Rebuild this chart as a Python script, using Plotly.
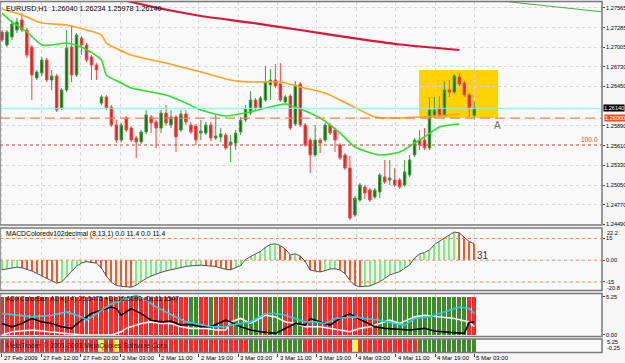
import plotly.graph_objects as go

W, H = 625, 363
PLOT_W = 602          # plotting width in px (price scale sits to the right)
FONT = "Liberation Sans"

# ---------------- price data (EURUSD H1) ----------------
opens = [1.27224,1.27039,1.27153,1.27252,1.27394,1.27252,1.27011,1.26570,1.26641,1.26826,
         1.26542,1.26599,1.26144,1.26400,1.27011,1.26613,1.27138,1.27039,1.26869,1.26755,
         1.26215,1.26301,1.26159,1.25903,1.25690,1.26002,1.25860,1.25718,1.25662,1.25804,
         1.26017,1.25946,1.25860,1.26073,1.25903,1.26017,1.25832,1.26059,1.25903,1.25889,
         1.25789,1.25789,1.25903,1.25718,1.25733,1.25761,1.25619,1.25647,1.25804,1.25974,
         1.26073,1.26258,1.26144,1.26258,1.26471,1.26542,1.26485,1.26230,1.26315,1.25917,
         1.26485,1.25903,1.25690,1.25477,1.25690,1.25690,1.25903,1.25832,1.25619,1.25477,
         1.25292,1.24625,1.24838,1.25023,1.24980,1.24881,1.24952,1.25165,1.25122,1.25122,
         1.25122,1.25051,1.25193,1.25477,1.25690,1.25690,1.25576,1.26045,1.26144,1.26045,
         1.26400,1.26372,1.26585,1.26499,1.26329,1.26040]
highs = [1.27252,1.27252,1.27394,1.27422,1.27493,1.27280,1.27039,1.26684,1.26869,1.26854,
         1.26684,1.26627,1.26428,1.27252,1.27323,1.27209,1.27167,1.27067,1.26897,1.26783,
         1.26329,1.26329,1.26187,1.25974,1.25931,1.26031,1.25889,1.25747,1.25832,1.26116,
         1.26045,1.25974,1.26116,1.26187,1.26116,1.26045,1.26116,1.26116,1.25946,1.25917,
         1.25974,1.25946,1.25946,1.26045,1.25860,1.25789,1.25761,1.25832,1.26017,1.26187,
         1.26386,1.26286,1.26315,1.26741,1.26698,1.26769,1.26783,1.26329,1.26343,1.26528,
         1.26514,1.25931,1.25718,1.25903,1.25718,1.25931,1.25931,1.25860,1.25647,1.25505,
         1.25463,1.24895,1.25079,1.25051,1.25008,1.25008,1.25221,1.25406,1.25406,1.25292,
         1.25150,1.25406,1.25477,1.25718,1.25832,1.25860,1.26301,1.26301,1.26315,1.26528,
         1.26542,1.26627,1.26641,1.26528,1.26357,1.26234]
lows = [1.27082,1.27011,1.27110,1.27209,1.27224,1.26854,1.26258,1.26542,1.26599,1.26514,
        1.26400,1.26088,1.26116,1.26372,1.26514,1.26585,1.26897,1.26798,1.26542,1.26542,
        1.26187,1.26116,1.25875,1.25647,1.25662,1.25804,1.25662,1.25434,1.25633,1.25775,
        1.25789,1.25576,1.25789,1.25889,1.25860,1.25520,1.25804,1.25903,1.25775,1.25619,
        1.25690,1.25761,1.25676,1.25690,1.25662,1.25548,1.25378,1.25548,1.25761,1.25946,
        1.26045,1.26116,1.26116,1.26230,1.26258,1.26428,1.26230,1.26201,1.25832,1.25889,
        1.25875,1.25591,1.25221,1.25449,1.25505,1.25662,1.25761,1.25520,1.25406,1.25264,
        1.24554,1.24597,1.24810,1.24852,1.24810,1.24852,1.24866,1.25065,1.25051,1.25023,
        1.24994,1.25023,1.25165,1.25449,1.25548,1.25548,1.25548,1.26002,1.26017,1.26017,
        1.26301,1.26343,1.26457,1.26301,1.26017,1.25978]
closes = [1.27110,1.27224,1.27337,1.27366,1.27252,1.26897,1.26613,1.26656,1.26826,1.26542,
          1.26599,1.26116,1.26400,1.26996,1.26613,1.27181,1.27039,1.26826,1.26755,1.26684,
          1.26301,1.26144,1.25903,1.25690,1.25903,1.25832,1.25690,1.25662,1.25804,1.26045,
          1.25931,1.25860,1.26073,1.25931,1.26017,1.25733,1.26059,1.25946,1.25804,1.25690,
          1.25818,1.25903,1.25718,1.25747,1.25775,1.25576,1.25662,1.25789,1.25974,1.26130,
          1.26258,1.26144,1.26286,1.26514,1.26542,1.26457,1.26258,1.26301,1.25860,1.26471,
          1.25903,1.25619,1.25477,1.25690,1.25647,1.25903,1.25789,1.25690,1.25434,1.25292,
          1.24582,1.24866,1.25051,1.24937,1.24838,1.24980,1.25193,1.25094,1.25150,1.25051,
          1.25023,1.25236,1.25406,1.25690,1.25619,1.25576,1.26116,1.26116,1.26045,1.26400,
          1.26372,1.26599,1.26485,1.26329,1.26144,1.26140]
bars = list(range(len(opens)))

# moving averages (bar index, price)
red_ma_i = [22, 26, 30, 35, 40, 50, 60, 70, 80, 92]
red_ma_p = [1.27721, 1.27650, 1.27586, 1.27515, 1.27451, 1.27356, 1.27252, 1.27143, 1.27046, 1.26968]
orange_ma_i = [0, 4, 8, 13, 20, 21, 26, 33, 40, 46, 50, 56, 60, 65, 70, 75, 80, 84, 88, 92]
orange_ma_p = [1.27550, 1.27465, 1.27351, 1.27323, 1.27181, 1.27067, 1.26897, 1.26783, 1.26656, 1.26542,
               1.26514, 1.26514, 1.26443, 1.26357, 1.26187, 1.26017, 1.26002, 1.26017, 1.26031, 1.26059]
green_ma_i = [0, 2, 5, 8, 10, 13, 16, 20, 21, 24, 26, 33, 37, 40, 45, 50, 57, 60, 64, 68, 71, 76, 80, 83, 85, 88, 92]
green_ma_p = [1.27493, 1.27366, 1.27224, 1.27039, 1.27039, 1.27067, 1.27011, 1.26826, 1.26613, 1.26499,
              1.26428, 1.26329, 1.26215, 1.26116, 1.26031, 1.26088, 1.26201, 1.26130, 1.26002, 1.25789,
              1.25591, 1.25477, 1.25520, 1.25647, 1.25733, 1.25875, 1.25917]
trend_i = [102, 121]
trend_p = [1.27652, 1.27508]

bid_price = 1.26140
alert_price = 1.26000
fibo_price = 1.25620
box_i = [83.9, 99.8]
box_p = [1.26002, 1.26684]
a_label_i, a_label_p = 99.6, 1.25903

price_ticks = [1.27565, 1.27285, 1.27005, 1.26730, 1.26450, 1.25890, 1.25610,
               1.25330, 1.25050, 1.24770, 1.24490]

# MACD
macd = [-6.6,-5.9,-5.4,-4.8,-5.2,-6.1,-7.4,-9.1,-10.9,-12.6,
        -14.3,-15.9,-15.0,-11.5,-7.7,-4.2,-1.9,-1.0,-1.6,-2.0,
        -5.4,-10.9,-15.2,-17.4,-18.0,-18.2,-18.6,-17.2,-14.7,-12.6,
        -10.9,-9.5,-8.4,-7.4,-6.6,-5.7,-4.8,-4.3,-3.9,-3.5,
        -3.4,-3.7,-4.1,-4.4,-5.4,-6.3,-6.6,-5.4,-3.7,0.5,
        2.7,4.4,6.0,8.8,10.9,11.3,10.0,7.7,3.6,4.4,
        2.9,-1.0,-6.8,-7.4,-8.1,-7.2,-6.1,-5.9,-6.8,-9.2,
        -14.0,-17.4,-18.3,-18.0,-17.8,-16.3,-14.8,-12.6,-10.2,-9.0,
        -7.9,-5.6,-3.3,1.5,4.3,5.3,7.0,10.8,12.8,15.3,
        17.4,19.4,18.8,16.0,12.8,11.4]
macd_levels = [15, 0, -15]
macd_ticks = [15, 0, -15]
macd_ticktext = ["15", "0.00", "-15"]
macd_max_label, macd_min_label = "22.2", "-20.8"

# ADX
adx_i = [0,6,10,13,16,17,20,22,24,25,27,29,31,33,35,37,40,42,45,46,48,50,53,55,57,59,61,63,65,67,
         70,71,73,76,79,81,83,86,88,92,94,95]
adx_v = [25.6,21.9,23.7,27.4,21.9,18.2,29.2,36.6,40.3,42.2,45.8,40.3,32.9,27.4,21.9,16.3,13.5,10.8,10.8,12.7,
         14.6,16.3,25.6,25.6,23.7,20.1,16.3,16.3,14.6,20.1,21.9,21.9,20.1,18.2,14.6,12.7,20.1,21.9,25.6,32.9,
         31.1,25.6]
pdi_i = [0,2,4,6,8,10,12,14,16,18,20,22,23,24,26,28,30,32,34,36,38,40,42,45,46,48,50,52,55,57,
         59,61,62,64,66,68,70,71,73,75,77,80,82,85,87,90,92,93,94,95]
pdi_v = [14.6,10.8,14.6,20.1,16.3,14.6,10.8,9.1,18.2,25.6,29.2,32.9,31.1,23.7,31.1,25.6,18.2,16.3,17.1,12.7,
         13.5,10.8,10.8,18.2,16.3,10.8,7.2,5.3,3.5,9.1,14.6,12.7,20.1,16.3,12.7,20.1,25.6,21.9,16.3,10.8,
         9.1,8.3,7.2,9.1,6.1,4.6,3.5,3.5,15.7,16.3]
mdi_i = [0,2,6,10,13,16,22,24,25,26,28,30,32,34,36,38,41,43,45,46,48,50,53,55,57,59,61,64,66,68,
         70,72,74,76,78,80,83,85,88,91,94,95]
mdi_v = [1.7,5.3,7.2,5.3,3.5,1.7,1.7,5.3,9.1,10.8,14.6,16.3,14.6,14.6,10.8,9.1,9.1,7.2,7.2,16.3,
         20.1,14.6,23.7,21.9,16.3,14.6,10.8,10.8,9.1,7.2,5.3,9.1,10.8,14.6,18.2,14.6,21.9,23.7,21.9,20.1,
         16.3,10.8]
adx_bar_value = 5.25
adx_state = ("RRRRRRRRRRRRRRRRRRRRRRRRRRRRRRRRRRRRRR" "GG" "RR" "G" "RRRR" "GGGGGG" "R" "GGG" "RR"
             "GG" "RR" "G" "RRRRRRRRRRRR" "GGGGGGGGGGGGGGGGGG" "RR")
cross_state = ("RRRRRRRRRRRRRRRRRRRR" "Y" "RR" "Y" "RRRRRRRRRRRRRRRRRRRRRRRRRR" "GGGGGGGGGGG"
               "RRRRRRRRRR" "Y" "RRRRRRRRRRRR" "GGGGGGGGGGGG")

time_labels = ["27 Feb 2009", "27 Feb 12:00", "27 Feb 20:00", "2 Mar 03:00", "2 Mar 11:00",
               "2 Mar 19:00", "3 Mar 03:00", "3 Mar 11:00", "3 Mar 19:00", "4 Mar 03:00",
               "4 Mar 11:00", "4 Mar 19:00", "5 Mar 03:00"]
label_pos = [k * 7.92 for k in range(len(time_labels))]

title_text = "EURUSD,H1  1.26040 1.26234 1.25978 1.26140"
macd_text = "MACDColoredv102decimal (8,13,1) 0.0 11.4 0.0 11.4"
adx_text = "ADXColorBar  ADX(14) 25.6475 +DI:15.5590 -DI:11.1547"
copy_text = "MetaTrader © 2001-2008 MetaQuotes Software Corp."

# ---------------- layout helpers ----------------
def py(px):            # pixel row -> paper y
    return 1 - px / H

def px_x(px):          # pixel column -> paper x
    return px / PLOT_W

XR = [-0.4, 120.7]
panels = {"main": (1.5, 225), "macd": (228, 290.5), "adx": (293.5, 336.5), "cross": (339, 352.5)}

fig = go.Figure()

# candles
fig.add_trace(go.Candlestick(
    x=bars, open=opens, high=highs, low=lows, close=closes, xaxis="x", yaxis="y",
    increasing=dict(line=dict(color="#3c9c3c", width=1), fillcolor="#0b700b"),
    decreasing=dict(line=dict(color="#f04848", width=1), fillcolor="#ee1a1a"),
    whiskerwidth=0, showlegend=False, hoverinfo="skip"))

for xi, yp, col, wd in [(red_ma_i, red_ma_p, "#dc1438", 2.2),
                        (orange_ma_i, orange_ma_p, "#ffa31a", 1.6),
                        (green_ma_i, green_ma_p, "#2ee02e", 1.6),
                        (trend_i, trend_p, "#4aa84a", 1)]:
    fig.add_trace(go.Scatter(x=xi, y=yp, mode="lines", line=dict(color=col, width=wd, shape="spline", smoothing=0.6),
                             xaxis="x", yaxis="y", showlegend=False, hoverinfo="skip"))

# MACD
macd_cols = []
for k, v in enumerate(macd):
    prev = macd[k - 1] if k > 0 else v - 1
    macd_cols.append("#7cf07c" if v >= prev else "#f25a2a")
fig.add_trace(go.Bar(x=bars, y=macd, width=0.22, marker=dict(color=macd_cols, line=dict(width=0)),
                     xaxis="x2", yaxis="y2", showlegend=False, hoverinfo="skip"))
fig.add_trace(go.Scatter(x=bars, y=macd, mode="lines", line=dict(color="#505050", width=1),
                         xaxis="x2", yaxis="y2", showlegend=False, hoverinfo="skip"))

# ADX colour bars + lines
adx_cols = ["#f42c2c" if s == "R" else "#3e8a2c" for s in adx_state]
fig.add_trace(go.Bar(x=bars, y=[adx_bar_value] * len(bars), width=0.8,
                     marker=dict(color=adx_cols, line=dict(width=0)),
                     xaxis="x3", yaxis="y3", showlegend=False, hoverinfo="skip"))
for xi, v, col in [(mdi_i, mdi_v, "#f4f4f4"), (pdi_i, pdi_v, "#000000"), (adx_i, adx_v, "#22d0e0")]:
    fig.add_trace(go.Scatter(x=xi, y=v, mode="lines", line=dict(color=col, width=1.6),
                             xaxis="x3", yaxis="y5", showlegend=False, hoverinfo="skip"))

# cross bar
cmap = {"R": "#f42c2c", "G": "#3e8a2c", "Y": "#ffff00"}
fig.add_trace(go.Bar(x=bars, y=[1] * len(bars), width=0.8,
                     marker=dict(color=[cmap[s] for s in cross_state], line=dict(width=0)),
                     xaxis="x4", yaxis="y4", showlegend=False, hoverinfo="skip"))

grid = dict(showgrid=True, gridcolor="#d6d6d6", griddash="dot", gridwidth=1)
SCALE_FS = 5.6
tickfont = dict(family=FONT, size=SCALE_FS, color="#000000")

xcommon = dict(range=XR, tickvals=label_pos, showticklabels=False, zeroline=False, showline=False,
               automargin=False, **grid)
ycommon = dict(side="right", ticks="outside", ticklen=2, tickcolor="#404040", tickfont=tickfont,
               zeroline=False, automargin=False)
layout = dict(
    width=W, height=H, margin=dict(l=0, r=W - PLOT_W, t=0, b=0, autoexpand=False),
    paper_bgcolor="#f6f6f6", plot_bgcolor="#f9f9f9", bargap=0, barmode="overlay",
    hovermode=False, showlegend=False, font=dict(family=FONT, size=7, color="#000"),
    xaxis=dict(anchor="y", domain=[0, 1], rangeslider=dict(visible=False), **xcommon),
    xaxis2=dict(anchor="y2", domain=[0, 1], matches="x", **xcommon),
    xaxis3=dict(anchor="y3", domain=[0, 1], matches="x", **xcommon),
    xaxis4=dict(anchor="y4", domain=[0, 1], matches="x", ticks="outside", ticklen=3, tickcolor="#404040", **xcommon),
    yaxis=dict(anchor="x", domain=[py(panels["main"][1]), py(panels["main"][0])], range=[1.24483, 1.27657],
               tickvals=price_ticks, ticktext=[f"{p:.5f}" for p in price_ticks], **ycommon, **grid),
    yaxis2=dict(anchor="x2", domain=[py(panels["macd"][1]), py(panels["macd"][0])], range=[-20.9, 22.2],
                tickvals=macd_ticks, ticktext=macd_ticktext, showgrid=False, **ycommon),
    yaxis3=dict(anchor="x3", domain=[py(panels["adx"][1]), py(panels["adx"][0])], range=[-0.21, 5.73],
                tickvals=[5.25, 0], ticktext=["5.25", "0.00"], showgrid=False, **ycommon),
    yaxis5=dict(anchor="x3", overlaying="y3", range=[0, 48], visible=False),
    yaxis4=dict(anchor="x4", domain=[py(panels["cross"][1]), py(panels["cross"][0])], range=[0, 1],
                visible=False),
)
fig.update_layout(**layout)

shapes = []
# yellow zone
shapes.append(dict(type="rect", xref="x", yref="y", x0=box_i[0], x1=box_i[1], y0=box_p[0], y1=box_p[1],
                   fillcolor="#ffd200", line=dict(width=0), layer="below"))
# horizontal price lines
shapes.append(dict(type="line", xref="paper", yref="y", x0=0, x1=1, y0=bid_price, y1=bid_price,
                   line=dict(color="#86eef0", width=1)))
shapes.append(dict(type="line", xref="paper", yref="y", x0=0, x1=1, y0=alert_price, y1=alert_price,
                   line=dict(color="#ee8058", width=1.2, dash="10px,5px")))
shapes.append(dict(type="line", xref="paper", yref="y", x0=0, x1=1, y0=fibo_price, y1=fibo_price,
                   line=dict(color="#c85a4a", width=1, dash="dot")))
for lv in macd_levels:
    shapes.append(dict(type="line", xref="paper", yref="y2", x0=0, x1=1, y0=lv, y1=lv,
                       line=dict(color="#f08a60", width=1, dash="dot")))
# panel frames
for top, bot in panels.values():
    shapes.append(dict(type="rect", xref="paper", yref="paper", x0=0, x1=1, y0=py(bot), y1=py(top),
                       line=dict(color="#7a7a7a", width=1.5), fillcolor="rgba(0,0,0,0)"))
fig.update_layout(shapes=shapes)

small = dict(family=FONT, size=SCALE_FS, color="#000")
ann = []
ann.append(dict(text=title_text, xref="paper", yref="paper", x=px_x(4), y=py(8), xanchor="left",
                yanchor="middle", showarrow=False, font=dict(family=FONT, size=7.2, color="#000")))
ann.append(dict(text=macd_text, xref="paper", yref="paper", x=px_x(4), y=py(233.5), xanchor="left",
                yanchor="middle", showarrow=False, font=dict(family=FONT, size=6.8, color="#000")))
ann.append(dict(text=adx_text, xref="paper", yref="paper", x=px_x(4), y=py(299), xanchor="left",
                yanchor="middle", showarrow=False, font=dict(family=FONT, size=6.8, color="#101010")))
ann.append(dict(text=copy_text, xref="paper", yref="paper", x=px_x(4), y=py(346), xanchor="left",
                yanchor="middle", showarrow=False, font=dict(family=FONT, size=6.8, color="#202020")))
ann.append(dict(text="A", xref="x", yref="y", x=a_label_i, y=a_label_p, showarrow=False,
                font=dict(family=FONT, size=10, color="#707070")))
ann.append(dict(text="100.0", xref="paper", yref="y", x=px_x(600), y=fibo_price, xanchor="right",
                yanchor="bottom", showarrow=False, font=dict(family=FONT, size=6.5, color="#c04a3a")))
ann.append(dict(text="31", xref="x2", yref="y2", x=95.2, y=3.2, xanchor="left", yanchor="middle",
                showarrow=False, font=dict(family=FONT, size=10, color="#303030")))
# price boxes on the scale
ann.append(dict(text=f"{bid_price:.5f}", xref="paper", yref="y", x=1, y=bid_price, xanchor="left",
                yanchor="middle", showarrow=False, bgcolor="#000000", borderpad=0, xshift=1,
                font=dict(family=FONT, size=SCALE_FS, color="#ffffff")))
ann.append(dict(text=f"{alert_price:.5f}", xref="paper", yref="y", x=1, y=alert_price, xanchor="left",
                yanchor="middle", showarrow=False, bgcolor="#ff4a1a", borderpad=0, xshift=2,
                font=dict(family=FONT, size=SCALE_FS, color="#ffffff")))
# scale labels placed off the axis ends
for txt, ypx in [(macd_max_label, 232.5), (macd_min_label, 287.5), ("5.25", 341.5), ("-0.25", 347.5)]:
    ann.append(dict(text=txt, xref="paper", yref="paper", x=1, y=py(ypx), xanchor="left", xshift=3,
                    yanchor="middle", showarrow=False, font=small))
# time labels
for lp, lt in zip(label_pos, time_labels):
    ann.append(dict(text=lt, xref="x4", yref="paper", x=lp, y=py(358), xanchor="left", yanchor="middle",
                    showarrow=False, font=dict(family=FONT, size=6, color="#000")))
fig.update_layout(annotations=ann)

fig.write_html("out.html")
